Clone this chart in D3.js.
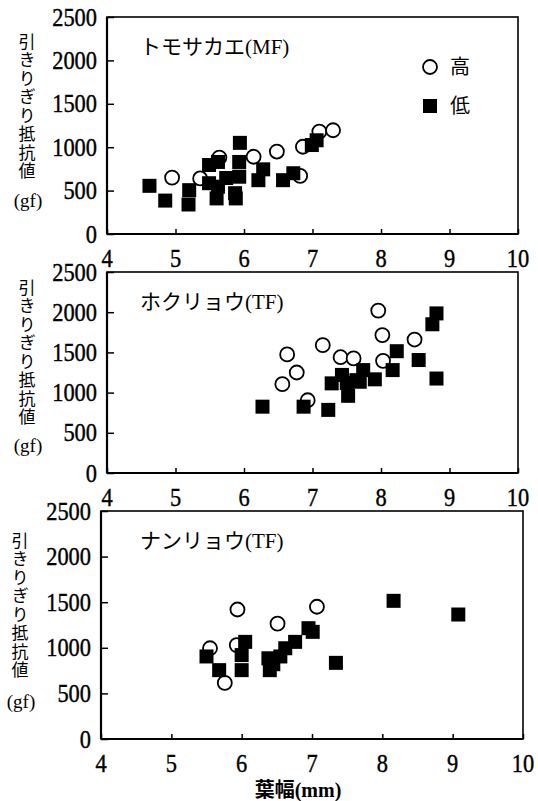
<!DOCTYPE html>
<html><head><meta charset="utf-8">
<script src="https://cdn.jsdelivr.net/npm/d3@7"></script>
<style>html,body{margin:0;padding:0;background:#fff;}</style>
</head><body>
<script>
// ---- data ----
const xTicks = [4,5,6,7,8,9,10];
const yTicks = [0,500,1000,1500,2000,2500];
const panelTitles = ["トモサカエ(MF)", "ホクリョウ(TF)", "ナンリョウ(TF)"];
const legendLabels = ["高", "低"];
const yLabel = "引きりぎり抵抗値";
const yUnit = "(gf)";
const xLabel = "葉幅(mm)";

const tomosakaeHigh = [[4.95,650],[5.36,640],[5.64,880],[6.14,890],[6.48,950],[6.82,670],[6.86,1005],[7.10,1180],[7.30,1195]];
const tomosakaeLow = [[4.62,555],[4.85,385],[5.20,505],[5.19,340],[5.49,795],[5.49,585],[5.62,830],[5.60,410],[5.62,545],
  [5.74,645],[5.87,470],[5.88,410],[5.93,660],[5.93,830],[5.94,1050],[6.21,620],[6.28,745],[6.57,620],[6.72,700],[6.99,1025],[7.06,1080]];

const hokuryouHigh = [[6.56,1105],[6.63,1475],[6.77,1250],[6.93,905],[7.15,1590],[7.41,1440],[7.60,1425],[7.96,2020],[8.02,1715],[8.03,1395],[8.49,1660]];
const hokuryouLow = [[6.27,825],[6.87,825],[7.23,785],[7.28,1115],[7.43,1220],[7.52,960],[7.50,1120],[7.64,1155],[7.69,1135],[7.74,1280],[7.91,1165],
  [8.17,1280],[8.23,1515],[8.55,1405],[8.75,1850],[8.81,1985],[8.81,1175]];

const nanryouHigh = [[5.55,995],[5.76,615],[5.93,1030],[5.94,1420],[6.51,1265],[7.07,1450]];
const nanryouLow = [[5.50,905],[5.68,755],[6.00,755],[6.00,920],[6.05,1065],[6.38,885],[6.40,755],[6.45,820],[6.55,905],[6.62,995],[6.76,1065],
  [6.95,1215],[7.01,1175],[7.34,835],[8.16,1515],[9.08,1365]];

const panels = [
  {title: panelTitles[0], high: tomosakaeHigh, low: tomosakaeLow, L:107, R:518, T:17, B:234, legend:true, ylx:27, yly:33, gfy:207, tickR:97},
  {title: panelTitles[1], high: hokuryouHigh, low: hokuryouLow, L:107, R:518, T:272, B:473, legend:false, ylx:27, yly:279, gfy:452, tickR:97},
  {title: panelTitles[2], high: nanryouHigh, low: nanryouLow, L:101, R:523, T:511, B:739, legend:false, ylx:20, yly:532, gfy:708, tickR:91}
];

const W = 538, H = 801;
const svg = d3.select("body").append("svg").attr("width", W).attr("height", H);
const serif = "'Liberation Serif','Noto Sans CJK JP',serif";
const cjk = "'Noto Sans CJK JP',sans-serif";

function numText(g, x, y, s, anchor) {
  return g.append("text").attr("x", x).attr("y", y).attr("font-family", serif)
    .attr("font-size", 25).attr("fill", "#000").attr("text-anchor", anchor)
    .attr("stroke", "#000").attr("stroke-width", 0.4)
    .attr("textLength", 11.2 * s.length).attr("lengthAdjust", "spacingAndGlyphs").text(s);
}

panels.forEach(p => {
  const g = svg.append("g");
  const x = d3.scaleLinear().domain([4,10]).range([p.L, p.R]);
  const y = d3.scaleLinear().domain([0,2500]).range([p.B, p.T]);

  // frame
  g.append("rect").attr("x", p.L).attr("y", p.T).attr("width", p.R - p.L).attr("height", p.B - p.T)
    .attr("fill", "none").attr("stroke", "#000").attr("stroke-width", 1.6);
  g.append("line").attr("x1", p.L).attr("x2", p.L).attr("y1", p.T).attr("y2", p.B).attr("stroke", "#000").attr("stroke-width", 2.2);
  g.append("line").attr("x1", p.L).attr("x2", p.R).attr("y1", p.B).attr("y2", p.B).attr("stroke", "#000").attr("stroke-width", 2.2);

  // axes with inward ticks
  const yAxis = d3.axisRight(y).tickValues(yTicks).tickSize(7).tickFormat("");
  g.append("g").attr("transform", `translate(${p.L},0)`).call(yAxis)
    .call(a => a.select(".domain").remove())
    .call(a => a.selectAll("line").attr("stroke-width", 1.5));
  const xAxis = d3.axisTop(x).tickValues(xTicks).tickSize(5).tickFormat("");
  g.append("g").attr("transform", `translate(0,${p.B})`).call(xAxis)
    .call(a => a.select(".domain").remove())
    .call(a => a.selectAll("line").attr("stroke-width", 1.5));

  // tick labels
  yTicks.forEach(v => numText(g, p.tickR, y(v) + 8.5, String(v), "end"));
  xTicks.forEach(v => numText(g, x(v), p.B + 33, String(v), "middle"));

  // title
  g.append("text").attr("x", 140).attr("y", p.T + 37).attr("font-family", serif)
    .attr("font-size", 21).attr("fill", "#000").text(p.title);

  // y label (vertical writing)
  g.append("text").attr("x", p.ylx).attr("y", p.yly)
    .style("writing-mode", "vertical-rl").attr("letter-spacing", 1.5)
    .attr("font-family", cjk).attr("font-size", 17).attr("fill", "#000").text(yLabel);
  g.append("text").attr("x", p.ylx + 1).attr("y", p.gfy).attr("text-anchor", "middle")
    .attr("font-family", serif).attr("font-size", 19).attr("fill", "#000").text(yUnit);

  // markers: circles first, squares on top
  g.append("g").selectAll("circle").data(p.high).join("circle")
    .attr("cx", d => x(d[0])).attr("cy", d => y(d[1])).attr("r", 7)
    .attr("fill", "#fff").attr("stroke", "#000").attr("stroke-width", 1.8);
  const s = 14;
  g.append("g").selectAll("rect").data(p.low).join("rect")
    .attr("x", d => x(d[0]) - s/2).attr("y", d => y(d[1]) - s/2).attr("width", s).attr("height", s)
    .attr("fill", "#000");

  if (p.legend) {
    g.append("circle").attr("cx", 430).attr("cy", 67).attr("r", 7)
      .attr("fill", "#fff").attr("stroke", "#000").attr("stroke-width", 1.8);
    g.append("rect").attr("x", 430 - s/2).attr("y", 106 - s/2).attr("width", s).attr("height", s).attr("fill", "#000");
    g.append("text").attr("x", 450).attr("y", 74).attr("font-family", cjk).attr("font-size", 20).text(legendLabels[0]);
    g.append("text").attr("x", 450).attr("y", 113).attr("font-family", cjk).attr("font-size", 20).text(legendLabels[1]);
  }
});

// x axis title
svg.append("text").attr("x", 298).attr("y", 797).attr("text-anchor", "middle")
  .attr("font-family", serif).attr("font-weight", "bold").attr("font-size", 20).attr("fill", "#000").text(xLabel);
</script>
</body></html>
